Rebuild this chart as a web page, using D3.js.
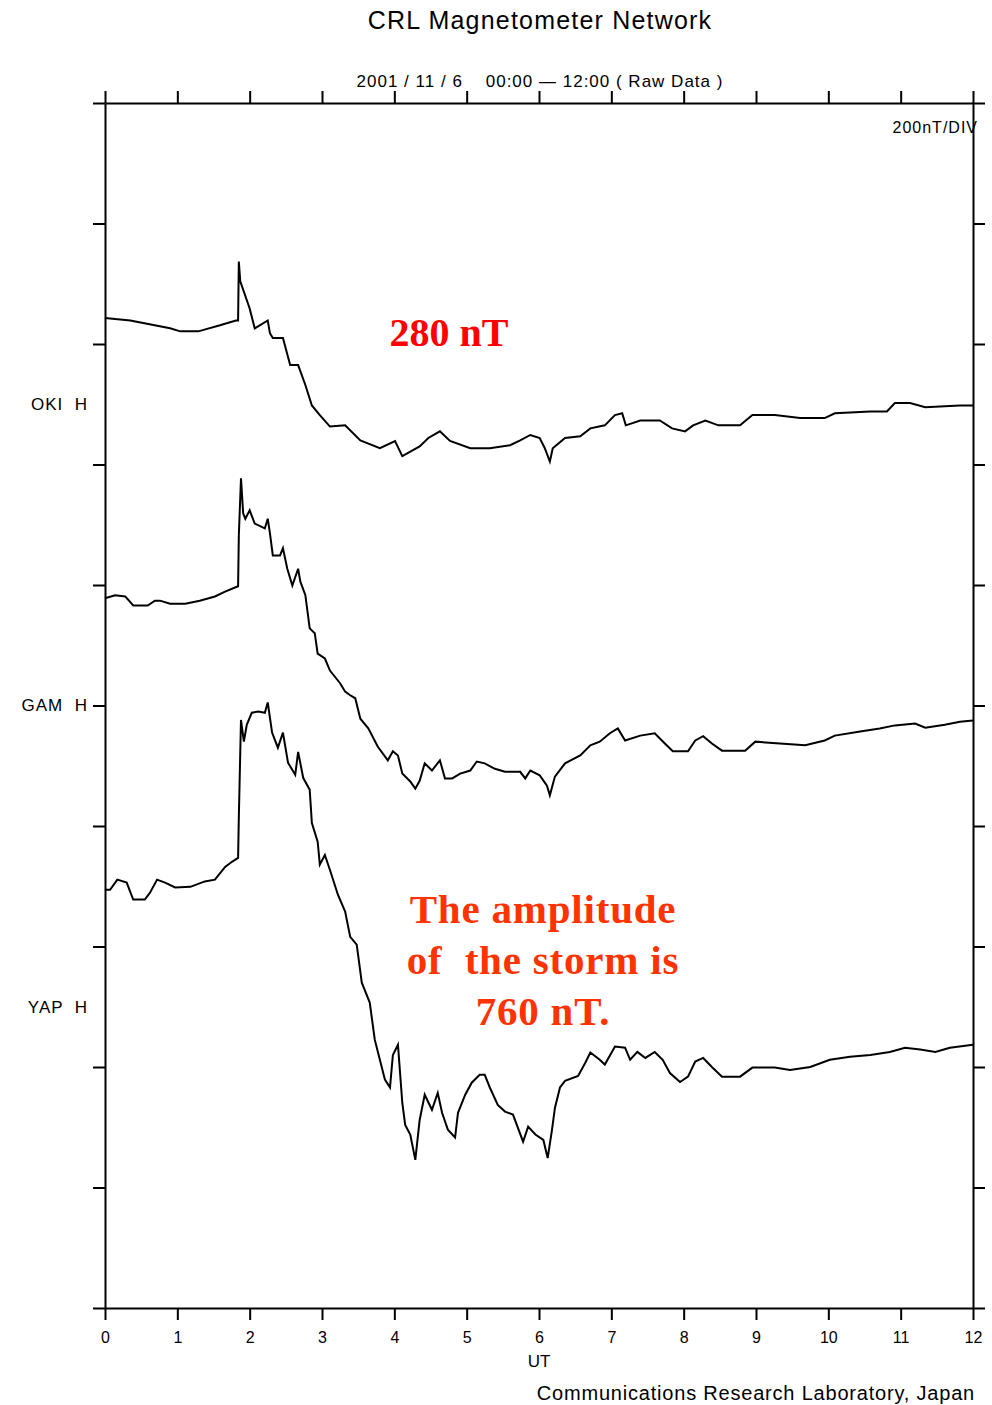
<!DOCTYPE html>
<html>
<head>
<meta charset="utf-8">
<script src="https://cdn.jsdelivr.net/npm/d3@7"></script>
<style>
  body { margin: 0; background: #fff; }
  .lbl { font-family: "Liberation Sans", Arial, sans-serif; fill: #000; white-space: pre; }
  .axis text { font-family: "Liberation Sans", Arial, sans-serif; font-size: 16px; fill: #000; }
  .axis path, .axis line { stroke: #000; stroke-width: 2px; }
</style>
</head>
<body>
<div id="chart"></div>
<script>
// UT hours and H deviations (nT)
const okiT = [0, 0.35, 0.90, 1.04, 1.29, 1.59, 1.81, 1.84, 1.85, 1.87, 2.00, 2.07, 2.25, 2.28, 2.32, 2.46, 2.56, 2.67, 2.77, 2.86, 2.97, 3.11, 3.32, 3.53, 3.80, 4.01, 4.11, 4.35, 4.47, 4.63, 4.77, 5.05, 5.32, 5.60, 5.74, 5.88, 6.01, 6.08, 6.15, 6.19, 6.36, 6.57, 6.71, 6.91, 7.05, 7.15, 7.20, 7.40, 7.67, 7.84, 8.02, 8.13, 8.30, 8.48, 8.78, 8.95, 9.26, 9.61, 9.95, 10.09, 10.58, 10.81, 10.92, 11.13, 11.34, 11.68, 11.82, 12.00]
const okiH = [143, 139, 126, 121, 121, 131, 139, 139, 237, 204, 159, 126, 139, 118, 110, 110, 65, 65, 32, -2, -18, -37, -35, -60, -73, -61, -86, -70, -56, -45, -61, -73, -73, -68, -60, -51, -56, -73, -95, -73, -56, -53, -40, -35, -18, -15, -35, -27, -27, -40, -45, -35, -27, -35, -35, -18, -18, -23, -23, -15, -12, -12, 2, 2, -5, -3, -2, -2]

const gamT = [0, 0.14, 0.28, 0.39, 0.59, 0.69, 0.76, 0.90, 1.11, 1.31, 1.52, 1.66, 1.84, 1.85, 1.88, 1.91, 1.94, 2.00, 2.07, 2.21, 2.25, 2.28, 2.32, 2.42, 2.46, 2.52, 2.59, 2.67, 2.70, 2.77, 2.83, 2.90, 2.94, 3.04, 3.11, 3.25, 3.32, 3.39, 3.46, 3.53, 3.64, 3.77, 3.91, 3.98, 4.05, 4.11, 4.22, 4.29, 4.35, 4.42, 4.52, 4.63, 4.70, 4.80, 4.91, 5.05, 5.14, 5.25, 5.39, 5.53, 5.74, 5.81, 5.88, 6.01, 6.11, 6.15, 6.22, 6.36, 6.57, 6.71, 6.84, 6.98, 7.09, 7.19, 7.40, 7.60, 7.74, 7.85, 8.06, 8.16, 8.27, 8.39, 8.53, 8.85, 8.99, 9.33, 9.68, 9.95, 10.09, 10.44, 10.71, 10.92, 11.20, 11.34, 11.61, 11.82, 12.00]
const gamH = [178, 183, 181, 166, 166, 174, 174, 169, 169, 174, 181, 189, 198, 282, 377, 319, 310, 324, 302, 294, 310, 286, 249, 249, 261, 227, 199, 227, 206, 183, 128, 120, 86, 78, 58, 37, 23, 17, 12, -22, -38, -68, -91, -76, -83, -113, -126, -138, -125, -96, -108, -91, -121, -121, -113, -108, -93, -96, -105, -110, -110, -121, -108, -116, -133, -149, -118, -96, -83, -66, -60, -46, -38, -58, -50, -46, -63, -76, -76, -58, -51, -63, -75, -75, -60, -63, -66, -58, -50, -43, -38, -33, -30, -37, -32, -27, -25]

const yapT = [0, 0.07, 0.17, 0.30, 0.39, 0.55, 0.62, 0.72, 0.83, 0.97, 1.18, 1.38, 1.52, 1.66, 1.76, 1.84, 1.85, 1.88, 1.92, 1.96, 2.03, 2.12, 2.21, 2.25, 2.31, 2.39, 2.46, 2.53, 2.63, 2.67, 2.74, 2.83, 2.86, 2.94, 2.97, 3.04, 3.11, 3.22, 3.32, 3.39, 3.48, 3.55, 3.66, 3.73, 3.80, 3.87, 3.94, 3.98, 4.05, 4.11, 4.15, 4.22, 4.29, 4.35, 4.42, 4.52, 4.60, 4.66, 4.74, 4.84, 4.88, 4.98, 5.07, 5.18, 5.25, 5.32, 5.43, 5.53, 5.64, 5.78, 5.85, 5.95, 6.06, 6.12, 6.18, 6.22, 6.29, 6.36, 6.54, 6.64, 6.71, 6.84, 6.91, 7.05, 7.19, 7.26, 7.36, 7.47, 7.60, 7.71, 7.81, 7.95, 8.06, 8.16, 8.27, 8.39, 8.53, 8.78, 8.95, 9.26, 9.47, 9.75, 10.02, 10.30, 10.58, 10.85, 11.06, 11.27, 11.48, 11.68, 12.00]
const yapH = [194, 194, 211, 206, 178, 178, 189, 211, 206, 198, 199, 208, 211, 232, 241, 247, 314, 476, 440, 468, 488, 490, 488, 505, 455, 430, 455, 405, 385, 423, 380, 360, 305, 274, 236, 252, 227, 186, 158, 116, 103, 40, 7, -55, -88, -121, -134, -80, -63, -159, -196, -212, -254, -188, -146, -171, -143, -176, -204, -217, -176, -146, -126, -113, -113, -134, -163, -174, -179, -224, -199, -212, -221, -251, -204, -168, -134, -123, -115, -93, -76, -88, -96, -66, -68, -88, -75, -85, -75, -88, -110, -125, -116, -91, -85, -100, -116, -116, -101, -101, -105, -100, -88, -83, -80, -75, -68, -71, -75, -68, -63]

const stationNames = ["OKI  H", "GAM  H", "YAP  H"]
const stationBase = [1500, 1000, 500]   // nT baseline of each trace on the stacked scale
const utTicks = [0, 1, 2, 3, 4, 5, 6, 7, 8, 9, 10, 11, 12]
const divTicks = [0, 200, 400, 600, 800, 1000, 1200, 1400, 1600, 1800, 2000]

const margin = { top: 103, right: 19, bottom: 97, left: 105 },
    width = 992 - margin.left - margin.right,
    height = 1405 - margin.top - margin.bottom;

const svg = d3.select("#chart")
    .append("svg")
    .attr("width", 992)
    .attr("height", 1405)

const g = svg.append("g")
    .attr("transform", `translate(${margin.left},${margin.top})`);

const xScale = d3.scaleLinear().domain([0, 12]).range([0, width])
const yScale = d3.scaleLinear().domain([0, 2000]).range([height, 0])

// Axes on all four sides, outward ticks
g.append("g").attr("class", "axis")
    .attr("transform", `translate(0,${height})`)
    .call(d3.axisBottom(xScale).tickValues(utTicks).tickSize(12).tickSizeOuter(0).tickPadding(12).tickFormat(d3.format("d")))

g.append("g").attr("class", "axis")
    .call(d3.axisTop(xScale).tickValues(utTicks).tickSize(12).tickSizeOuter(0).tickFormat(""))

g.append("g").attr("class", "axis")
    .call(d3.axisLeft(yScale).tickValues(divTicks).tickSize(12).tickSizeOuter(0).tickFormat(""))

g.append("g").attr("class", "axis")
    .attr("transform", `translate(${width},0)`)
    .call(d3.axisRight(yScale).tickValues(divTicks).tickSize(12).tickSizeOuter(0).tickFormat(""))

// Traces
const series = [
    { t: okiT, h: okiH },
    { t: gamT, h: gamH },
    { t: yapT, h: yapH }
]

const line = d3.line()
    .x(d => xScale(d[0]))
    .y(d => yScale(d[1]))

series.forEach((s, i) => {
    const pts = s.t.map((t, k) => [t, stationBase[i] + s.h[k]])
    g.append("path")
        .datum(pts)
        .attr("fill", "none")
        .attr("stroke", "black")
        .attr("stroke-width", 2)
        .attr("stroke-linejoin", "miter")
        .attr("d", line)
})

// Station labels
g.selectAll(".station")
    .data(stationNames)
    .enter()
    .append("text")
    .attr("class", "lbl")
    .attr("x", -17)
    .attr("y", (d, i) => yScale(stationBase[i]))
    .attr("dy", "0.35em")
    .attr("text-anchor", "end")
    .attr("font-size", 17)
    .attr("letter-spacing", 1)
    .text(d => d)

// Titles
svg.append("text").attr("class", "lbl")
    .attr("x", 540).attr("y", 29)
    .attr("text-anchor", "middle")
    .attr("font-size", 25)
    .attr("letter-spacing", 1.2)
    .text("CRL Magnetometer Network")

svg.append("text").attr("class", "lbl")
    .attr("x", 540).attr("y", 87)
    .attr("text-anchor", "middle")
    .attr("font-size", 17)
    .attr("letter-spacing", 1)
    .text("2001 / 11 / 6    00:00 \u2014 12:00 ( Raw Data )")

svg.append("text").attr("class", "lbl")
    .attr("x", 978).attr("y", 133)
    .attr("text-anchor", "end")
    .attr("font-size", 16)
    .attr("letter-spacing", 1)
    .text("200nT/DIV")

svg.append("text").attr("class", "lbl")
    .attr("x", xScale(6) + margin.left).attr("y", 1367)
    .attr("text-anchor", "middle")
    .attr("font-size", 17)
    .text("UT")

svg.append("text").attr("class", "lbl")
    .attr("x", 975).attr("y", 1400)
    .attr("text-anchor", "end")
    .attr("font-size", 20)
    .attr("letter-spacing", 0.8)
    .text("Communications Research Laboratory, Japan")

// Annotations
svg.append("text")
    .attr("x", 449).attr("y", 346)
    .attr("text-anchor", "middle")
    .attr("font-family", "Liberation Serif, serif")
    .attr("font-weight", "bold")
    .attr("font-size", 40)
    .attr("fill", "#ff0000")
    .text("280 nT")

const noteLines = ["The amplitude", "of  the storm is", "760 nT."]
svg.selectAll(".note")
    .data(noteLines)
    .enter()
    .append("text")
    .attr("x", 543)
    .attr("y", (d, i) => 923 + i * 51)
    .attr("text-anchor", "middle")
    .attr("font-family", "Liberation Serif, serif")
    .attr("font-weight", "bold")
    .attr("font-size", 41)
    .attr("letter-spacing", 0.8)
    .attr("fill", "#ff3300")
    .style("white-space", "pre")
    .text(d => d)
</script>
</body>
</html>
